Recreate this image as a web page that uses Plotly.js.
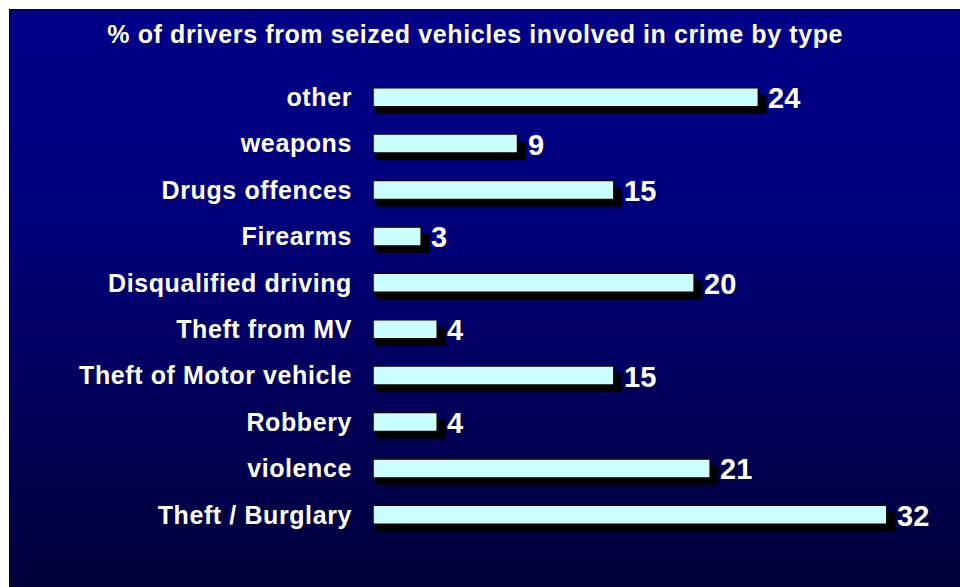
<!DOCTYPE html>
<html>
<head>
<meta charset="utf-8">
<script src="https://cdn.plot.ly/plotly-3.0.1.min.js"></script>
<style>
  html, body { margin: 0; padding: 0; background: #ffffff; }
  #wrap { position: relative; width: 960px; height: 587px; overflow: hidden; }
  #bg { position: absolute; left: 9px; top: 9px; width: 951px; height: 578px;
        border-top: 1px solid #000020; border-left: 1px solid #000020;
        background: linear-gradient(to bottom, #000088 0%, #00007c 35%, #000058 70%, #00003a 100%); }
  #chart { position: absolute; left: 0; top: 0; width: 960px; height: 587px; }
  #chart .gtitle { letter-spacing: 0.6px; }
  #chart .ytick text { letter-spacing: 0.6px; }
</style>
</head>
<body>
<div id="wrap">
  <div id="bg"></div>
  <div id="chart"></div>
</div>
<script>
// Categories listed bottom-to-top as drawn
const categories = [
  "Theft / Burglary",
  "violence",
  "Robbery",
  "Theft of Motor vehicle",
  "Theft from MV",
  "Disqualified driving",
  "Firearms",
  "Drugs offences",
  "weapons",
  "other"
];
const values = [32, 21, 4, 15, 4, 20, 3, 15, 9, 24];
const valueLabels = values.map(v => String(v));

const BAR_W = 0.41;
const SH_DOWN = 0.15;   // shadow shift along category axis
const SH_LEFT = 0.19;   // shadow start (x units)
const SH_RIGHT = 0.5;   // shadow extends beyond bar end (x units)

const shadow = {
  type: 'bar', orientation: 'h',
  y: categories,
  x: values.map(v => v + SH_RIGHT - SH_LEFT),
  base: SH_LEFT,
  width: BAR_W,
  offset: -BAR_W / 2 - SH_DOWN,
  marker: { color: '#000000', line: { width: 0 } },
  hoverinfo: 'skip', showlegend: false
};

const bars = {
  type: 'bar', orientation: 'h',
  y: categories,
  x: values,
  width: BAR_W,
  offset: -BAR_W / 2,
  marker: { color: '#ccffff', line: { color: '#000000', width: 1.5 } },
  showlegend: false
};

const annotations = categories.map((c, i) => ({
  x: values[i], y: c, xref: 'x', yref: 'y',
  text: valueLabels[i], showarrow: false,
  xanchor: 'left', yanchor: 'middle', xshift: 8, yshift: -1,
  font: { family: 'Liberation Sans, Arial, sans-serif', size: 29, color: '#ffffff', weight: 'bold' }
}));

const layout = {
  width: 960, height: 587,
  paper_bgcolor: 'rgba(0,0,0,0)',
  plot_bgcolor: 'rgba(0,0,0,0)',
  margin: { l: 373, r: 25, t: 74, b: 49 },
  barmode: 'overlay',
  title: {
    text: '<b>% of drivers from seized vehicles involved in crime by type</b>',
    font: { family: 'Liberation Sans, Arial, sans-serif', size: 25, color: '#ffffff' },
    xref: 'container', yref: 'container', x: 0.495, y: 0.942,
    xanchor: 'center', yanchor: 'middle'
  },
  xaxis: {
    range: [0, 35], showgrid: false, zeroline: false, showticklabels: false,
    showline: false, ticks: '', fixedrange: true
  },
  yaxis: {
    type: 'category', range: [-0.5, 9.5], showgrid: false, zeroline: false,
    showline: false, ticks: '', ticklabelstandoff: 20,
    tickfont: { family: 'Liberation Sans, Arial, sans-serif', size: 25, color: '#ffffff', weight: 'bold' },
    fixedrange: true
  },
  annotations: annotations
};

Plotly.newPlot('chart', [shadow, bars], layout, { displayModeBar: false, staticPlot: true });
</script>
</body>
</html>
